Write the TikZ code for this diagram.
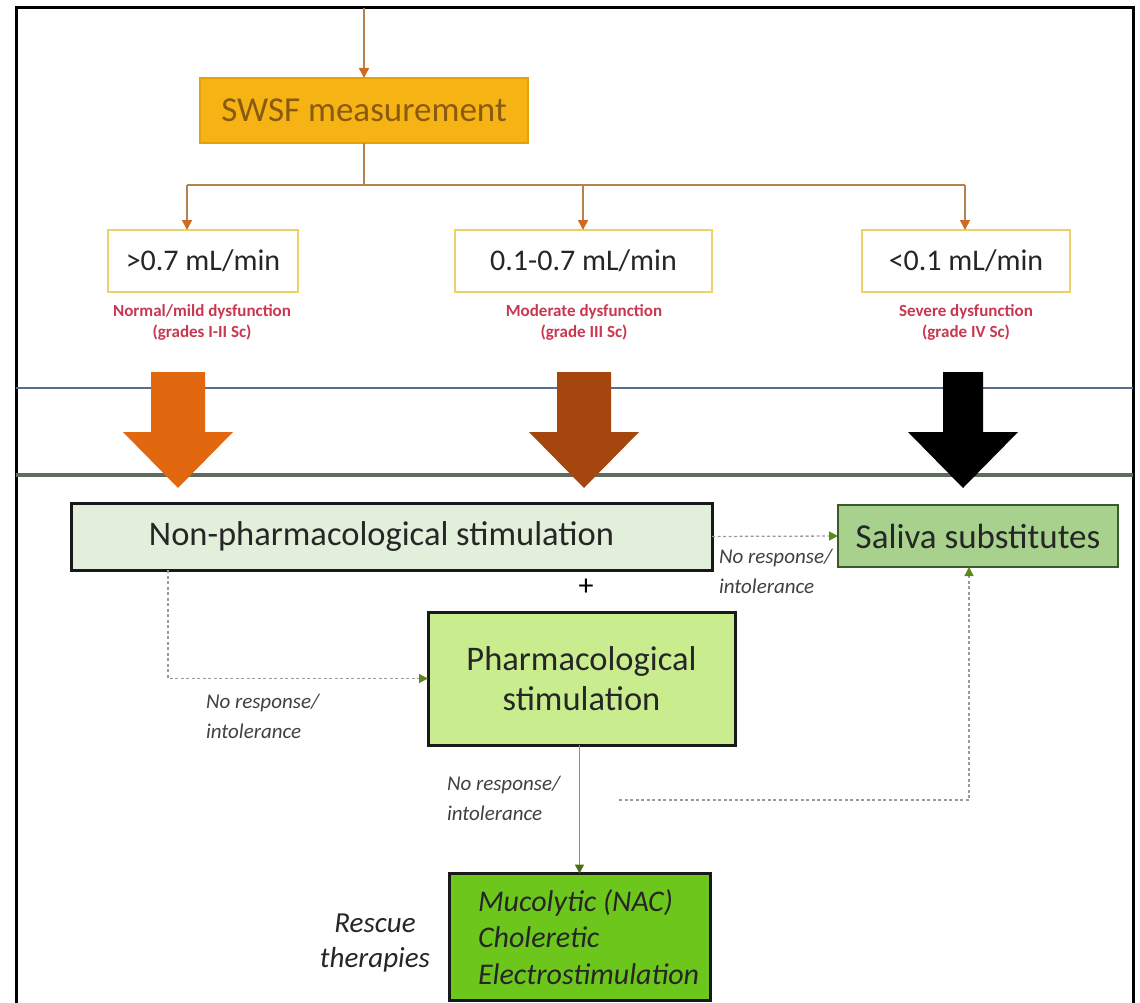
\documentclass[tikz,border=0pt]{standalone}
\usepackage{fontspec}
\setmainfont{Carlito}
\usetikzlibrary{arrows.meta,calc}

\definecolor{swsffill}{HTML}{F6B414}
\definecolor{swsfdraw}{HTML}{E3A306}
\definecolor{swsftext}{HTML}{8A5A10}
\definecolor{branch}{HTML}{B5834F}
\definecolor{branchtip}{HTML}{D06A20}
\definecolor{ratedraw}{HTML}{EBD36A}
\definecolor{gradered}{HTML}{C8374F}
\definecolor{bandblue}{HTML}{5A6E8C}
\definecolor{bandgrey}{HTML}{5F6B5F}
\definecolor{arrmild}{HTML}{E2680F}
\definecolor{arrmod}{HTML}{A4460E}
\definecolor{nonpfill}{HTML}{E2EFDA}
\definecolor{salfill}{HTML}{A9D18E}
\definecolor{saldraw}{HTML}{3A5A2A}
\definecolor{pharmfill}{HTML}{C9EC8F}
\definecolor{rescfill}{HTML}{6CC61C}
\definecolor{dashgrey}{HTML}{9A9A9A}
\definecolor{tipgreen}{HTML}{5A8A1A}
\definecolor{solidgreen}{HTML}{8C9B5A}

\begin{document}
\begin{tikzpicture}[x=1pt,y=1pt,
  every node/.style={inner sep=0pt, outer sep=0pt},
  swsfbox/.style={draw=swsfdraw, fill=swsffill, line width=2, text=swsftext,
    font=\fontsize{35}{40}\selectfont},
  ratebox/.style={draw=ratedraw, fill=white, line width=2, text=black!85,
    font=\fontsize{30}{36}\selectfont},
  gradelabel/.style={text=gradered, align=center,
    font=\fontsize{17}{21}\selectfont\bfseries},
  branchline/.style={draw=branch, line width=1.5},
  branchtipped/.style={branchline, -{Triangle[length=10pt,width=10pt,color=branchtip]}},
  therapybox/.style={draw=black!90, line width=3, text=black!85, align=center,
    font=\fontsize{34.5}{40}\selectfont},
  fallback/.style={draw=dashgrey, line width=1.3, dash pattern=on 3pt off 2.5pt,
    -{Triangle[length=9pt,width=9pt,color=tipgreen]}},
  noresp/.style={align=left, text=black!75,
    font=\fontsize{21}{30}\selectfont\itshape},
]
\useasboundingbox (0,0) rectangle (1140,-1003);
\clip (0,0) rectangle (1140,-1003);

% outer frame, open at the bottom edge of the page
\draw[line width=3] (16,-8) rectangle (1133,-1030);

% ---- measurement and rate classes ----
\coordinate (entry) at (364,-8);
\node[swsfbox, minimum width=328, minimum height=65] (swsf) at (364,-110.5) {SWSF measurement};
\draw[branchtipped] (entry) -- (swsf.north);

\node[ratebox, minimum width=190, minimum height=62] (mild) at (203,-261) {>0.7 mL/min};
\node[ratebox, minimum width=257, minimum height=62] (moderate) at (583.5,-261) {0.1-0.7 mL/min};
\node[ratebox, minimum width=208, minimum height=62] (severe) at (966,-261) {<0.1 mL/min};

\coordinate (split) at (364,-185);
\coordinate (dropA) at (187,-185);
\coordinate (dropB) at (583,-185);
\coordinate (dropC) at (965,-185);
\draw[branchline] (swsf.south) -- (split);
\draw[branchline] (dropA) -- (dropC);
\draw[branchtipped] (dropA) -- (dropA |- mild.north);
\draw[branchtipped] (dropB) -- (dropB |- moderate.north);
\draw[branchtipped] (dropC) -- (dropC |- severe.north);

\node[gradelabel] (gmild) at (202,-322) {Normal/mild dysfunction\\(grades I-II Sc)};
\node[gradelabel] (gmod) at (584,-322) {Moderate dysfunction\\(grade III Sc)};
\node[gradelabel] (gsev) at (966,-322) {Severe dysfunction\\(grade IV Sc)};

% ---- separating band ----
\draw[draw=bandblue, line width=1.8] (16,-388) -- (1133,-388);
\draw[draw=bandgrey, line width=3.5] (16,-475) -- (1133,-475);

% block arrows crossing the band
\fill[arrmild] (151,-372) -- (205,-372) -- (205,-432) -- (233,-432) -- (178,-488)
  -- (123,-432) -- (151,-432) -- cycle;
\fill[arrmod] (557,-372) -- (611,-372) -- (611,-432) -- (639,-432) -- (584,-488)
  -- (529,-432) -- (557,-432) -- cycle;
\fill[black] (943,-372) -- (983,-372) -- (983,-432) -- (1018,-432) -- (963,-488)
  -- (908,-432) -- (943,-432) -- cycle;

% ---- treatment steps ----
\node[therapybox, fill=nonpfill, minimum width=641, minimum height=67] (nonpharm)
  at (391.5,-536.5) {Non-pharmacological stimulation\hspace*{20pt}};
\node[therapybox, fill=salfill, draw=saldraw, line width=2.5, minimum width=280,
  minimum height=62, font=\fontsize{35}{40}\selectfont] (saliva)
  at (978,-536) {Saliva substitutes};
\node[font=\fontsize{30}{30}\selectfont] (plus) at (586,-587) {+};
\node[therapybox, fill=pharmfill, minimum width=307, minimum height=133] (pharm)
  at (581.5,-678.5) {Pharmacological\\stimulation};
\node[therapybox, fill=rescfill, minimum width=261, minimum height=127] (rescue)
  at (579.5,-937) {};
\node[align=left, anchor=west, text=black!85,
  font=\fontsize{30}{36.5}\selectfont\itshape] (rescuetext)
  at (478,-937) {Mucolytic (NAC)\\Choleretic\\Electrostimulation};
\node[align=center, text=black!85, font=\fontsize{29}{35}\selectfont\itshape]
  (rescuelabel) at (375,-943) {Rescue\\therapies};

% ---- fallback paths ----
\draw[fallback] (nonpharm.east) -- (saliva.west);
\node[noresp, anchor=north west] (nr1) at (719,-549) {No response/\\intolerance};

\coordinate (np drop) at (168,-570);
\draw[fallback] (np drop) |- (pharm.west);
\node[noresp, anchor=north west] (nr2) at (206,-694) {No response/\\intolerance};

\draw[draw=solidgreen, line width=1.5, -{Triangle[length=9pt,width=9pt,color=tipgreen!80!black]}]
  (pharm.south -| rescue.north) -- (rescue.north);
\node[noresp, anchor=north west] (nr3) at (447,-776) {No response/\\intolerance};

\coordinate (rescue tap) at (619,-800);
\coordinate (rise) at (969,-800);
\draw[fallback] (rescue tap) -- (rise) -- (rise |- saliva.south);
\end{tikzpicture}
\end{document}
